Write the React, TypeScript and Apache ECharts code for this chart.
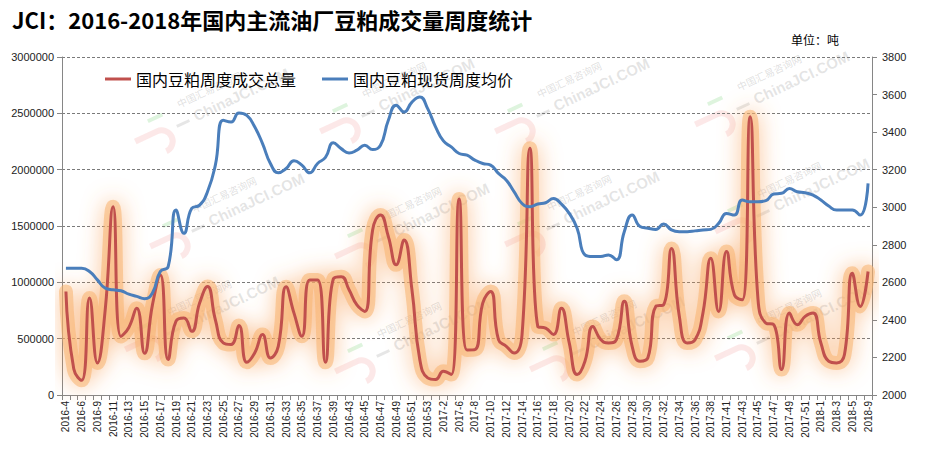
import React, { useEffect, useRef } from "react";
import * as echarts from "echarts";

const weeks = [
  "2016-4","2016-5","2016-6","2016-8","2016-9","2016-10","2016-11","2016-12","2016-13","2016-14",
  "2016-15","2016-16","2016-17","2016-18","2016-19","2016-20","2016-21","2016-22","2016-23","2016-24",
  "2016-25","2016-26","2016-27","2016-28","2016-29","2016-30","2016-31","2016-32","2016-33","2016-34",
  "2016-35","2016-36","2016-37","2016-38","2016-39","2016-41","2016-43","2016-44","2016-45","2016-46",
  "2016-47","2016-48","2016-49","2016-50","2016-51","2016-52","2016-53","2017-1","2017-2","2017-5",
  "2017-6","2017-7","2017-8","2017-9","2017-10","2017-11","2017-12","2017-13","2017-14","2017-15",
  "2017-16","2017-17","2017-18","2017-19","2017-20","2017-21","2017-22","2017-23","2017-24","2017-25",
  "2017-26","2017-27","2017-28","2017-29","2017-30","2017-31","2017-32","2017-33","2017-34","2017-35",
  "2017-36","2017-37","2017-38","2017-39","2017-41","2017-42","2017-43","2017-44","2017-45","2017-46",
  "2017-47","2017-48","2017-49","2017-50","2017-51","2017-52","2018-1","2018-2","2018-3","2018-4",
  "2018-5","2018-6","2018-9"
];

// 国内豆粕周度成交总量 (吨)
const volume = [
  919000, 230000, 130000, 860000, 285000, 760000, 1670000, 520000, 600000, 770000,
  370000, 800000, 1066000, 314000, 655000, 683000, 565000, 816000, 963000, 668000,
  462000, 448000, 616000, 290000, 373000, 536000, 329000, 432000, 960000, 727000,
  521000, 1020000, 1020000, 290000, 1030000, 1050000, 934000, 800000, 742000, 1465000,
  1598000, 1406000, 1155000, 1376000, 934000, 314000, 152000, 137000, 211000, 181000,
  1740000, 400000, 403000, 816000, 919000, 492000, 432000, 373000, 536000, 2190000,
  609000, 594000, 536000, 771000, 462000, 181000, 300000, 609000, 492000, 462000,
  492000, 831000, 432000, 300000, 330000, 786000, 801000, 1300000, 698000, 462000,
  491000, 727000, 1214000, 742000, 1273000, 889000, 845000, 2470000, 850000, 639000,
  624000, 226000, 727000, 624000, 698000, 727000, 462000, 300000, 285000, 359000,
  1080000, 786000, 1096000
];

// 国内豆粕现货周度均价 (元/吨)
const price = [
  2675, 2675, 2675, 2658, 2613, 2569, 2560, 2555, 2537, 2525,
  2513, 2543, 2658, 2684, 2985, 2861, 2994, 3011, 3082, 3224,
  3463, 3454, 3502, 3489, 3428, 3339, 3233, 3183, 3206, 3247,
  3224, 3183, 3233, 3265, 3343, 3312, 3289, 3304, 3330, 3307,
  3330, 3463, 3543, 3507, 3560, 3587, 3525, 3428, 3353, 3321,
  3286, 3277, 3251, 3233, 3224, 3180, 3144, 3082, 3020, 3003,
  3017, 3024, 3047, 3017, 2967, 2888, 2746, 2737, 2737, 2746,
  2720, 2870, 2959, 2897, 2888, 2882, 2911, 2879, 2870, 2870,
  2874, 2879, 2882, 2914, 2967, 2958, 3038, 3029, 3029, 3035,
  3070, 3074, 3100, 3082, 3077, 3065, 3038, 3006, 2985, 2985,
  2985, 2958, 3127
];

const seriesNames = ["国内豆粕周度成交总量", "国内豆粕现货周度均价"];
const titleText = "JCI：2016-2018年国内主流油厂豆粕成交量周度统计";
const unitText = "单位：吨";

const watermarkSpots = [
  [200, 110], [385, 100], [560, 100], [760, 93],
  [215, 215], [400, 225], [570, 213], [780, 200],
  [190, 318], [400, 340], [595, 338], [780, 327],
];

const CJK = '"Noto Sans CJK SC", "Noto Sans", sans-serif';
const NUM = '"Liberation Sans", Arial, sans-serif';

function watermark(cx: number, cy: number) {
  return {
    type: "group",
    x: cx,
    y: cy,
    rotation: 0.44,
    silent: true,
    z: 100,
    children: [
      {
        type: "text",
        x: -18,
        y: -20,
        style: { text: "中国汇易咨询网", font: `10px ${CJK}`, fill: "rgba(150,150,150,0.3)" },
      },
      {
        type: "text",
        x: -8,
        y: -4,
        style: { text: "ChinaJCI.COM", font: `bold 15px ${NUM}`, fill: "rgba(160,160,160,0.28)" },
      },
      {
        type: "line",
        shape: { x1: -28, y1: 5, x2: -14, y2: 5 },
        style: { stroke: "rgba(160,160,160,0.26)", lineWidth: 3 },
      },
      {
        type: "arc",
        shape: { cx: -48, cy: 12, r: 11, startAngle: -Math.PI / 2, endAngle: Math.PI / 2 },
        style: { stroke: "rgba(235,110,110,0.16)", lineWidth: 6, fill: "none" },
      },
      {
        type: "line",
        shape: { x1: -72, y1: 1, x2: -48, y2: 1 },
        style: { stroke: "rgba(235,110,110,0.16)", lineWidth: 6 },
      },
      {
        type: "line",
        shape: { x1: -52, y1: -12, x2: -36, y2: -12 },
        style: { stroke: "rgba(90,200,90,0.2)", lineWidth: 4 },
      },
    ],
  };
}

export default function App() {
  const ref = useRef<HTMLDivElement>(null);

  useEffect(() => {
    document.body.style.margin = "0";
    const chart = echarts.init(ref.current!, null, { renderer: "svg" });
    const axisColor = "#868686";
    const plain = (v: number) => String(v);
    const option: any = {
      animation: false,
      backgroundColor: "#ffffff",
      title: {
        text: titleText,
        left: 12,
        top: 8,
        padding: 0,
        textStyle: { fontSize: 22, fontWeight: "bold", color: "#000", fontFamily: CJK },
      },
      legend: {
        left: 100,
        top: 66,
        icon: "rect",
        itemWidth: 26,
        itemHeight: 3,
        itemGap: 26,
        data: seriesNames,
        textStyle: { fontSize: 16, color: "#000", fontFamily: CJK },
      },
      grid: {
        left: 62,
        right: 60,
        top: 57,
        bottom: 60,
        containLabel: false,
        outerBoundsMode: "none",
      },
      xAxis: {
        type: "category",
        data: weeks,
        boundaryGap: true,
        axisLine: { lineStyle: { color: axisColor } },
        axisTick: { show: true, interval: 0, length: 5, lineStyle: { color: axisColor } },
        axisLabel: {
          interval: 1,
          rotate: 90,
          fontSize: 10,
          fontFamily: NUM,
          color: "#222",
          margin: 6,
        },
      },
      yAxis: [
        {
          type: "value",
          min: 0,
          max: 3000000,
          interval: 500000,
          position: "left",
          axisLine: { show: true, lineStyle: { color: axisColor } },
          axisTick: { show: true, length: 5, lineStyle: { color: axisColor } },
          axisLabel: { fontSize: 11, fontFamily: NUM, color: "#222", margin: 8, formatter: plain },
          splitLine: { show: true, lineStyle: { color: "#7a7a7a", type: [3, 2], width: 1 } },
        },
        {
          type: "value",
          min: 2000,
          max: 3800,
          interval: 200,
          position: "right",
          axisLine: { show: true, lineStyle: { color: axisColor } },
          axisTick: { show: true, length: 5, lineStyle: { color: axisColor } },
          axisLabel: { fontSize: 11, fontFamily: NUM, color: "#222", margin: 10, formatter: plain },
          splitLine: { show: false },
        },
      ],
      series: [
        {
          name: "glow",
          type: "line",
          yAxisIndex: 0,
          data: volume,
          smooth: 0.5,
          symbol: "none",
          silent: true,
          z: 1,
          lineStyle: {
            width: 14,
            color: "rgba(248,178,110,0.55)",
            shadowBlur: 22,
            shadowColor: "rgba(247,150,70,1)",
            cap: "round",
            join: "round",
          },
        },
        {
          name: seriesNames[0],
          type: "line",
          yAxisIndex: 0,
          data: volume,
          smooth: 0.5,
          symbol: "none",
          z: 3,
          color: "#C0504D",
          lineStyle: { width: 3, color: "#C0504D" },
        },
        {
          name: seriesNames[1],
          type: "line",
          yAxisIndex: 1,
          data: price,
          smooth: 0.5,
          symbol: "none",
          z: 4,
          color: "#4A7EBB",
          lineStyle: { width: 3, color: "#4A7EBB" },
        },
      ],
      graphic: [
        {
          type: "text",
          x: 791,
          y: 33,
          style: { text: unitText, font: `12px ${CJK}`, fill: "#000" },
        },
        ...watermarkSpots.map(([x, y]) => watermark(x, y)),
      ],
    };
    chart.setOption(option);
    return () => chart.dispose();
  }, []);

  return <div ref={ref} style={{ width: 932, height: 455, display: "block" }} />;
}
